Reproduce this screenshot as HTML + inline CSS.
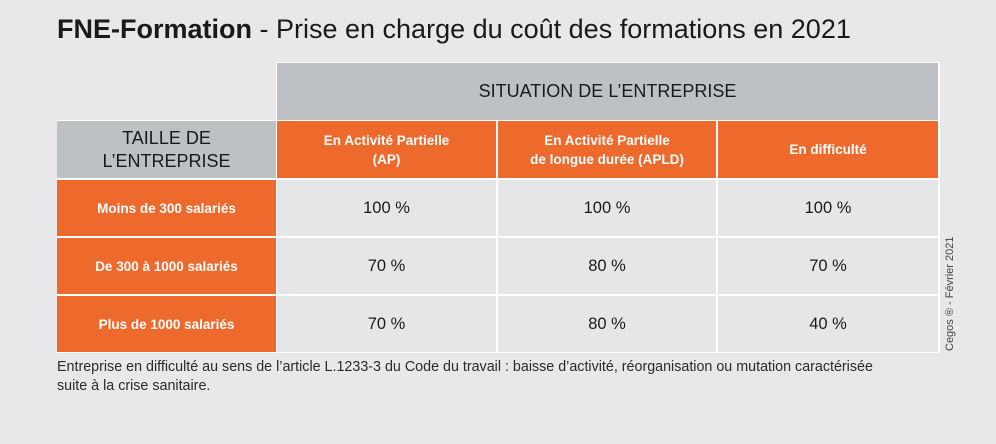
<!DOCTYPE html>
<html><head><meta charset="utf-8"><style>
body{margin:0;width:996px;height:444px;background:#e8e8ea;font-family:"Liberation Sans","DejaVu Sans",sans-serif;position:relative;overflow:hidden}
.c{position:absolute;box-sizing:border-box;display:flex;align-items:center;justify-content:center;text-align:center}
.g{background:#bdc1c4;color:#1a1a1a}
.o{background:#ee692c;color:#fff;font-size:13.5px;line-height:19px;font-weight:bold}
.d{background:#e6e6e8;color:#1a1a1a;font-size:16.5px}
</style></head><body>
<div style="position:absolute;left:57px;top:120px;width:883px;height:233px;background:#fff"></div>
<div style="position:absolute;left:276px;top:62px;width:664px;height:60px;background:#fff"></div>
<div style="position:absolute;left:57px;top:14px;font-size:27px;color:#1a1a1a;white-space:nowrap"><b>FNE-Formation</b> - Prise en charge du coût des formations en 2021</div>
<div class="c g" style="left:277px;top:63px;width:661px;height:57px;font-size:18px">SITUATION DE L’ENTREPRISE</div>
<div class="c g" style="left:57px;top:121px;width:219px;height:57px;font-size:18px;line-height:23px">TAILLE DE<br>L’ENTREPRISE</div>
<div class="c o" style="left:277px;top:121px;width:219px;height:57px">En Activité Partielle<br>(AP)</div>
<div class="c o" style="left:498px;top:121px;width:218px;height:57px">En Activité Partielle<br>de longue durée (APLD)</div>
<div class="c o" style="left:718px;top:121px;width:220px;height:57px">En difficulté</div>
<div id="rows"></div>
<div style="position:absolute;left:57px;top:358px;font-size:14.3px;line-height:19px;color:#2a2a2a;white-space:nowrap">Entreprise en difficulté au sens de l’article L.1233-3 du Code du travail : baisse d’activité, réorganisation ou mutation caractérisée<br>suite à la crise sanitaire.</div>
<div style="position:absolute;left:944px;top:351px;transform:rotate(-90deg);transform-origin:0 0;font-size:11px;color:#444;white-space:nowrap">Cegos ® - Février 2021</div>
<script>
const rowLabels=["Moins de 300 salariés","De 300 à 1000 salariés","Plus de 1000 salariés"];
const ap=["100 %","70 %","70 %"];
const apld=["100 %","80 %","80 %"];
const diff=["100 %","70 %","40 %"];
const cont=document.getElementById('rows');
const cols=[[277,219],[498,218],[718,220]];
rowLabels.forEach((lab,i)=>{
  const top=180+i*58;
  const l=document.createElement('div');
  l.className='c o';
  
  
  l.style.cssText=`left:57px;top:${top}px;width:219px;height:56px`;
  l.textContent=lab;cont.appendChild(l);
  [ap,apld,diff].forEach((arr,j)=>{
    const d=document.createElement('div');
    d.className='c d';
    
    
    d.style.cssText=`left:${cols[j][0]}px;top:${top}px;width:${cols[j][1]}px;height:56px`;
    d.textContent=arr[i];cont.appendChild(d);
  });
});
</script>
</body></html>
